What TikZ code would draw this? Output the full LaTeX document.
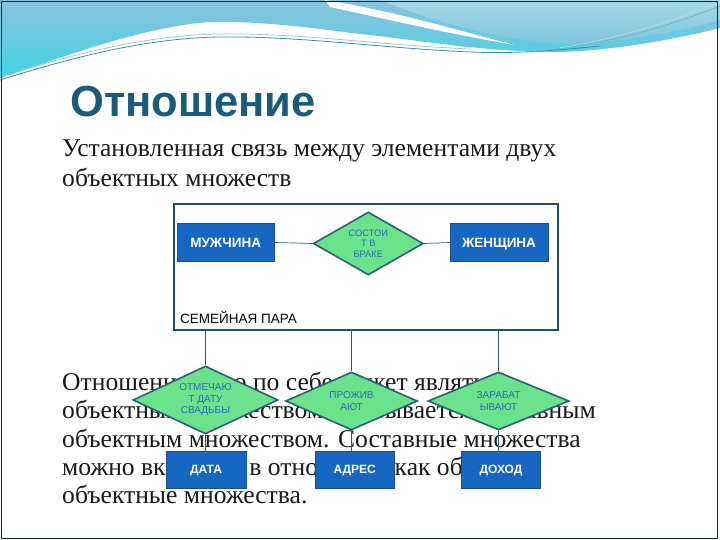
\documentclass[tikz,border=0pt]{standalone}
\usepackage{fontspec}
\setmainfont{Liberation Serif}
\newfontfamily\sansf{Liberation Sans}
\usetikzlibrary{shapes.geometric}
\definecolor{titlecol}{HTML}{1B5A78}
\definecolor{boxblue}{HTML}{1766C2}
\definecolor{boxedge}{HTML}{1F4E82}
\definecolor{diafill}{HTML}{6BE38C}
\definecolor{diaedge}{HTML}{2C5F72}
\definecolor{diatext}{HTML}{2A6CB8}
\definecolor{frameedge}{HTML}{1F5068}
\definecolor{wavetop}{HTML}{8CC2DC}
\definecolor{wavebot}{HTML}{40D4E6}
\definecolor{waveright}{HTML}{A6D7EA}
\definecolor{waveline}{HTML}{3A8FA8}
\definecolor{bodytext}{HTML}{1A1A1A}
\tikzset{
  bodyline/.style={anchor=base west, inner sep=0, text=bodytext, font=\fontsize{25.6}{30}\selectfont},
  entity/.style={draw=boxedge, line width=0.8pt, fill=boxblue, text=white, inner sep=0,
     text height=9.8pt, text depth=0pt,
     font=\sansf\bfseries\fontsize{13.5}{15}\selectfont},
  smallentity/.style={entity, text height=8.7pt, font=\sansf\bfseries\fontsize{12}{14}\selectfont},
  rel/.style={diamond, draw=diaedge, line width=1.6pt, fill=diafill, inner sep=0},
  reltext/.style={text=diatext, align=center, inner sep=0, font=\sansf\fontsize{9.3}{10.5}\selectfont},
  reltextb/.style={text=diatext, align=center, inner sep=0, font=\sansf\fontsize{10}{11.5}\selectfont},
  conn/.style={draw=diaedge, line width=0.7pt},
}
\begin{document}
\begin{tikzpicture}[x=1pt,y=-1pt]
\useasboundingbox (0,0) rectangle (720,540);
\fill[white] (0,0) rectangle (720,540);
% wave decoration
\shade[top color=wavetop, bottom color=wavebot]
  (0,0) -- (720,0) -- (720,28) .. controls (680,38) and (620,50) .. (560,52)
  .. controls (480,52) and (420,40) .. (360,34)
  .. controls (300,26) and (230,18) .. (190,24)
  .. controls (120,34) and (50,62) .. (0,78) -- cycle;
\shade[top color=waveright, bottom color=wavetop!80!wavebot]
  (380,0) -- (720,0) -- (720,20) .. controls (680,32) and (620,42) .. (570,44)
  .. controls (520,44) and (440,25) .. (380,0) -- cycle;
\fill[white] (325,0) .. controls (400,12) and (470,34) .. (515,45)
  .. controls (450,34) and (390,20) .. (330,7) -- cycle;
\draw[waveline, line width=0.8pt] (0,80) .. controls (80,55) and (150,38) .. (220,37)
  .. controls (300,36) and (380,48) .. (470,52) .. controls (520,54) and (560,50) .. (600,46);
\draw[waveline!60, line width=0.6pt] (0,77) .. controls (80,52) and (150,35) .. (220,34)
  .. controls (300,33) and (380,45) .. (470,49);
\draw[waveline!70, line width=0.6pt] (530,52) .. controls (600,45) and (660,30) .. (720,6);
\draw[white!70!waveline, line width=0.5pt] (560,48) .. controls (620,38) and (670,22) .. (720,2);
% slide border
\draw[black!70!teal, line width=0.8pt] (1,1) rectangle (717,538);
% title
\node[anchor=base west, inner sep=0, text=titlecol, font=\sansf\bfseries\fontsize{43.5}{48}\selectfont] (title) at (70,117) {Отношение};
% body text
\node[bodyline] (p1a) at (62,157) {Установленная связь между элементами двух};
\node[bodyline] (p1b) at (62,187) {объектных множеств};
\node[bodyline] (p2a) at (62,390) {Отношение само по себе может являться};
\node[bodyline] (p2b) at (62,418) {объектным множеством и называется составным};
\node[bodyline] (p2c) at (62,447) {объектным множеством. Составные множества};
\node[bodyline] (p2d) at (62,475) {можно включать в отношения как обычные};
\node[bodyline] (p2e) at (62,503) {объектные множества.};
% frame
\node[draw=frameedge, line width=1.4pt, fill=white, minimum width=384pt, minimum height=126pt, inner sep=0] (frame) at (366,267) {};
\node[anchor=base west, inner sep=0, font=\sansf\fontsize{13.5}{15}\selectfont] (pair) at (180,323) {СЕМЕЙНАЯ ПАРА};
% top row
\node[entity, minimum width=97pt, minimum height=38pt] (man) at (225.7,242.5) {МУЖЧИНА};
\node[entity, minimum width=98pt, minimum height=38pt] (woman) at (499,242.5) {ЖЕНЩИНА};
\node[rel, minimum width=110pt, minimum height=63pt,
  label={[reltext]center:{СОСТОИ\\Т В\\БРАКЕ}}] (marr) at (368.3,243.5) {};
\draw[conn] (man.east) -- (marr.west);
\draw[conn] (woman.west) -- (marr.east);
% bottom row
\coordinate (f1) at (205.5,329);
\coordinate (f2) at (351.5,329);
\coordinate (f3) at (498.5,329);
\node[rel, minimum width=145pt, minimum height=68pt,
  label={[reltextb]center:{ОТМЕЧАЮ\\Т ДАТУ\\СВАДЬБЫ}}] (wed) at (205.5,400) {};
\node[rel, minimum width=132pt, minimum height=58pt,
  label={[reltextb]center:{ПРОЖИВ\\АЮТ}}] (live) at (351.5,401) {};
\node[rel, minimum width=141pt, minimum height=58pt,
  label={[reltextb]center:{ЗАРАБАТ\\ЫВАЮТ}}] (earn) at (498.5,401) {};
\node[smallentity, minimum width=80pt, minimum height=37pt] (date) at (206,469.5) {ДАТА};
\node[smallentity, minimum width=79pt, minimum height=37pt] (addr) at (354.7,469.5) {АДРЕС};
\node[smallentity, minimum width=79pt, minimum height=37pt] (inc) at (501,469.5) {ДОХОД};
\draw[conn] (f1) -- (wed.north);
\draw[conn] (f2) -- (live.north);
\draw[conn] (f3) -- (earn.north);
\draw[conn] (wed.south) -- (wed.south |- date.north);
\draw[conn] (live.south) -- (live.south |- addr.north);
\draw[conn] (earn.south) -- (earn.south |- inc.north);
\end{tikzpicture}
\end{document}
